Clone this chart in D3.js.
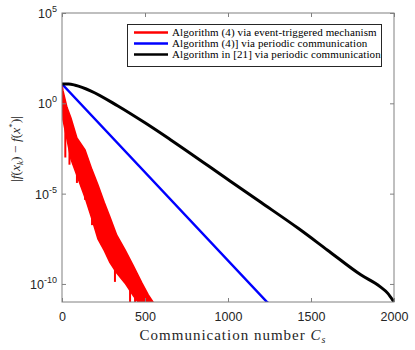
<!DOCTYPE html>
<html>
<head>
<meta charset="utf-8">
<script src="https://cdn.jsdelivr.net/npm/d3@7"></script>
<style>
  body { margin: 0; background: #fff; }
  svg { display: block; }
</style>
</head>
<body>
<div id="chart"></div>
<script>
// values (y is |f(x_k) - f(x*)|, log scale)
let xTicks = [0, 500, 1000, 1500, 2000];
let yTicks = [1e-10, 1e-5, 1e0, 1e5];
let yTickExp = ["-10", "-5", "0", "5"];

// red: event-triggered, drawn as a band (upper / lower envelope) + deep dips
let redCs   = [0, 6, 30, 54, 90, 139, 180, 217, 255, 289, 330, 380, 430, 482, 520, 548, 570];
let redHigh = [11.7, 5.0, 0.6, 0.155, 1.2e-2, 2.6e-3, 2.2e-4, 3.0e-5, 3.2e-6, 5.0e-7, 5.0e-8, 7.6e-9, 1.0e-9, 1.1e-10, 2.5e-11, 1e-11, 3e-12];
let redLow  = [11.7, 0.12, 1.0e-2, 8.0e-4, 1.0e-4, 6.0e-6, 4.0e-7, 3.0e-8, 7.0e-9, 1.5e-9, 4.0e-10, 1.1e-10, 2.2e-11, 5e-12, 3e-12, 2e-12, 2e-12];
let spikeCs   = [20, 45, 90, 139, 181, 235, 259, 319, 380, 410, 440];
let spikeTop  = [0.5, 3e-2, 5e-4, 2e-4, 1e-5, 1e-6, 5e-7, 1e-8, 1e-9, 5e-10, 1e-10];
let spikeLow  = [1e-3, 4e-4, 3.9e-5, 4.5e-6, 1.8e-7, 2.1e-8, 6.3e-8, 1.3e-10, 1.3e-10, 3e-12, 3e-12];

// blue: algorithm (4), periodic (straight on the log axis)
let blueCs  = [0, 1235, 1260];
let blueVal = [11.7, 1.0e-11, 6.3e-12];

// black: algorithm in [21], periodic
let blackCs  = [0, 40, 80, 175, 337, 500, 651, 1012, 1200, 1423, 1600, 1800, 1916, 1960, 2000];
let blackVal = [11.7, 11.7, 10.0, 4.8, 0.71, 8.3e-2, 1.0e-2, 5.0e-5, 3.2e-6, 1.2e-7, 7.4e-9, 3.2e-10, 7.1e-11, 3.2e-11, 1.0e-11];

let legendNames = [
    "Algorithm (4) via event-triggered mechanism",
    "Algorithm (4)] via periodic communication",
    "Algorithm in [21] via periodic communication"
];
let legendColors = ["#ff0000", "#0000ff", "#000000"];

let width = 415;
let height = 350;
let margins = {
    top: 13,
    right: 21,
    bot: 48,
    left: 62
};

let svg = d3.select("#chart")
    .append("svg")
    .attr("width", width)
    .attr("height", height);

let x = d3.scaleLinear()
    .domain([0, 2000])
    .range([margins.left, width - margins.right]);
let y = d3.scaleLog()
    .domain([1e-11, 1e5])
    .range([height - margins.bot, margins.top]);

let axisColor = "#808080";
let textColor = "#262626";
let tickFont = "'Liberation Sans', Arial, sans-serif";
let serif = "'Liberation Serif', 'Times New Roman', serif";

svg.append("defs").append("clipPath")
    .attr("id", "clip")
    .append("rect")
    .attr("x", x(0))
    .attr("y", y(1e5))
    .attr("width", x(2000) - x(0))
    .attr("height", y(1e-11) - y(1e5));

let plot = svg.append("g").attr("clip-path", "url(#clip)");

// red band
plot.append("path")
    .datum(redCs.map((c, i) => ({ c: c, hi: redHigh[i], lo: redLow[i] })))
    .attr("fill", "#ff0000")
    .attr("stroke", "#ff0000")
    .attr("stroke-width", 1.5)
    .attr("stroke-linejoin", "round")
    .attr("d", d3.area()
        .x(d => x(d.c))
        .y0(d => y(d.lo))
        .y1(d => y(d.hi)));

plot.selectAll(".spike")
    .data(spikeCs)
    .enter()
    .append("line")
    .attr("class", "spike")
    .attr("x1", d => x(d))
    .attr("x2", d => x(d))
    .attr("y1", (d, i) => y(spikeTop[i]))
    .attr("y2", (d, i) => y(spikeLow[i]))
    .attr("stroke", "#ff0000")
    .attr("stroke-width", 2);

let line = d3.line()
    .x(d => x(d[0]))
    .y(d => y(d[1]));

plot.append("path")
    .datum(blueCs.map((c, i) => [c, blueVal[i]]))
    .attr("fill", "none")
    .attr("stroke", "#0000ff")
    .attr("stroke-width", 2.5)
    .attr("d", line);

plot.append("path")
    .datum(blackCs.map((c, i) => [c, blackVal[i]]))
    .attr("fill", "none")
    .attr("stroke", "#000000")
    .attr("stroke-width", 3)
    .attr("stroke-linejoin", "round")
    .attr("d", line.curve(d3.curveMonotoneX));

// box
svg.append("rect")
    .attr("x", x(0))
    .attr("y", y(1e5))
    .attr("width", x(2000) - x(0))
    .attr("height", y(1e-11) - y(1e5))
    .attr("fill", "none")
    .attr("stroke", axisColor)
    .attr("stroke-width", 1);

// axes, ticks pointing inwards
function styleAxis(g) {
    g.select(".domain").remove();
    g.selectAll(".tick line").attr("stroke", axisColor);
    g.selectAll(".tick text")
        .attr("fill", textColor)
        .style("font-family", tickFont)
        .style("font-size", "12.5px");
}

svg.append("g")
    .attr("transform", "translate(0," + y(1e-11) + ")")
    .call(d3.axisBottom(x).tickValues(xTicks).tickSize(-4).tickPadding(10).tickFormat(d3.format("d")))
    .call(styleAxis);
svg.append("g")
    .attr("transform", "translate(0," + y(1e5) + ")")
    .call(d3.axisTop(x).tickValues(xTicks).tickSize(-4).tickFormat(""))
    .call(styleAxis);

svg.append("g")
    .attr("transform", "translate(" + x(0) + ",0)")
    .call(d3.axisLeft(y).tickValues(yTicks).tickSize(-4).tickFormat(""))
    .call(styleAxis);
svg.append("g")
    .attr("transform", "translate(" + x(2000) + ",0)")
    .call(d3.axisRight(y).tickValues(yTicks).tickSize(-4).tickFormat(""))
    .call(styleAxis);

yTicks.forEach(function (v, i) {
    let t = svg.append("text")
        .attr("x", x(0) - 5)
        .attr("y", y(v) + 5)
        .attr("text-anchor", "end")
        .attr("fill", textColor)
        .style("font-family", tickFont)
        .style("font-size", "12.5px");
    t.append("tspan").text("10");
    t.append("tspan")
        .attr("dy", -6)
        .style("font-size", "9px")
        .text(yTickExp[i]);
});

// axis titles
let xl = svg.append("text")
    .attr("x", (x(0) + x(2000)) / 2 + 5)
    .attr("y", 340)
    .attr("text-anchor", "middle")
    .attr("fill", textColor)
    .style("font-family", serif)
    .style("font-size", "15px")
    .style("letter-spacing", "1px");
xl.append("tspan").text("Communication number ");
xl.append("tspan").style("font-style", "italic").text("C");
xl.append("tspan").attr("dy", 3).style("font-size", "10px").style("font-style", "italic").text("s");

let yl = svg.append("text")
    .attr("transform", "translate(20,149) rotate(-90)")
    .attr("text-anchor", "middle")
    .attr("fill", textColor)
    .style("font-family", serif)
    .style("font-size", "13.5px");
yl.append("tspan").text("|");
yl.append("tspan").style("font-style", "italic").text("f");
yl.append("tspan").text("(");
yl.append("tspan").style("font-style", "italic").text("x");
yl.append("tspan").attr("dy", 3).style("font-size", "9px").style("font-style", "italic").text("k");
yl.append("tspan").attr("dy", -3).text(") \u2212 ");
yl.append("tspan").style("font-style", "italic").text("f");
yl.append("tspan").text("(");
yl.append("tspan").style("font-style", "italic").text("x");
yl.append("tspan").attr("dy", -5).style("font-size", "9px").text("*");
yl.append("tspan").attr("dy", 5).text(")|");

// legend
let legend = svg.append("g");
legend.append("rect")
    .attr("x", 127.5)
    .attr("y", 24.5)
    .attr("width", 254)
    .attr("height", 42)
    .attr("fill", "#fff")
    .attr("stroke", textColor)
    .attr("stroke-width", 1);

legendNames.forEach(function (name, i) {
    let ly = 32.5 + i * 11;
    legend.append("line")
        .attr("x1", 134)
        .attr("x2", 168)
        .attr("y1", ly)
        .attr("y2", ly)
        .attr("stroke", legendColors[i])
        .attr("stroke-width", 2.5);
    legend.append("text")
        .attr("x", 172)
        .attr("y", ly + 3.5)
        .attr("fill", "#000")
        .style("font-family", serif)
        .style("font-size", "11px")
        .style("letter-spacing", "0.1px")
        .text(name);
});
</script>
</body>
</html>
